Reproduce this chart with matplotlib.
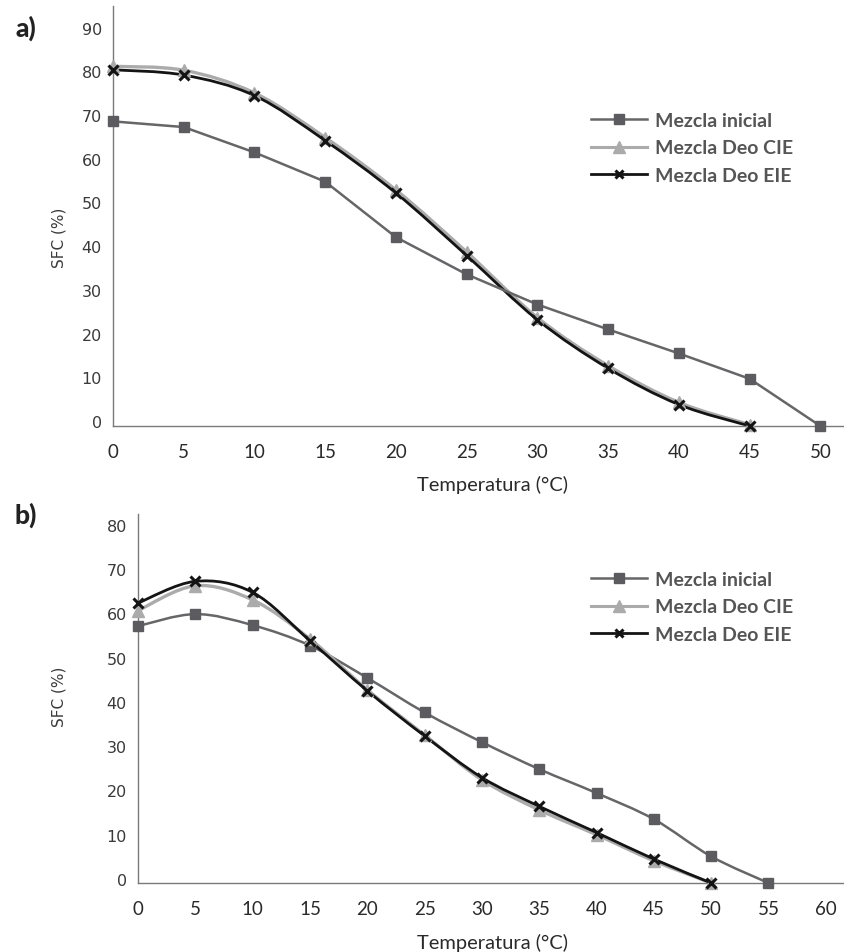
import matplotlib

matplotlib.use('Agg')
import matplotlib.pyplot as plt
import matplotlib.transforms as mtransforms
import numpy as np
from matplotlib.lines import Line2D
from matplotlib.patches import PathPatch
from matplotlib.path import Path

# datos
temp_a = [0, 5, 10, 15, 20, 25, 30, 35, 40, 45, 50]
inicial_a = [69.7, 68.4, 62.6, 55.9, 43.2, 34.7, 27.8, 22.1, 16.6, 10.8, 0.0]
temp_a_deo = [0, 5, 10, 15, 20, 25, 30, 35, 40, 45]
cie_a = [82.3, 81.4, 76.2, 66.0, 54.0, 39.8, 24.8, 13.8, 5.4, 0.3]
eie_a = [81.5, 80.3, 75.6, 65.3, 53.3, 39.0, 24.3, 13.2, 4.9, 0.0]

temp_b = [0, 5, 10, 15, 20, 25, 30, 35, 40, 45, 50, 55]
inicial_b = [58.0, 60.7, 58.2, 53.6, 46.3, 38.5, 31.8, 25.7, 20.3, 14.4, 6.0, 0.0]
temp_b_deo = [0, 5, 10, 15, 20, 25, 30, 35, 40, 45, 50]
cie_b = [61.5, 67.1, 63.9, 55.1, 43.6, 33.4, 23.3, 16.5, 10.9, 5.0, 0.0]
eie_b = [63.2, 68.1, 65.6, 54.7, 43.4, 33.2, 23.8, 17.3, 11.4, 5.4, 0.0]

ticks_a = [0, 5, 10, 15, 20, 25, 30, 35, 40, 45, 50]
ticks_b = [0, 5, 10, 15, 20, 25, 30, 35, 40, 45, 50, 55, 60]

labels = ['Mezcla inicial', 'Mezcla Deo CIE', 'Mezcla Deo EIE']
c_ini = '#666668'
c_sq = '#5c5c60'
c_cie = '#ababab'
c_eie = '#141414'

HUM = 'Lato'


def smooth_path(x, y):
    # curva suave estilo Excel (Bezier tipo Catmull-Rom)
    pts = np.column_stack([x, y]).astype(float)
    n = len(pts)
    verts = [pts[0]]
    codes = [Path.MOVETO]
    for i in range(n - 1):
        p0 = pts[i - 1] if i > 0 else pts[i]
        p1 = pts[i]
        p2 = pts[i + 1]
        p3 = pts[i + 2] if i + 2 < n else pts[i + 1]
        verts += [p1 + (p2 - p0) / 6, p2 - (p3 - p1) / 6, p2]
        codes += [Path.CURVE4] * 3
    return Path(verts, codes)


def draw_series(ax, x, y, color, lw, smooth):
    if smooth:
        ax.add_patch(PathPatch(smooth_path(x, y), fill=False, edgecolor=color,
                               lw=lw, capstyle='round', joinstyle='round'))
    else:
        ax.plot(x, y, color=color, lw=lw, solid_joinstyle='round')


def draw_markers(ax, x_ini, y_ini, x_deo, y_cie, y_eie):
    ax.plot(x_ini, y_ini, ls='none', marker='s', ms=7.5, color=c_sq, clip_on=False, zorder=4)
    ax.plot(x_deo, y_cie, ls='none', marker='^', ms=8.5, color=c_cie, clip_on=False, zorder=5)
    ax.plot(x_deo, y_eie, ls='none', marker='x', ms=6.5, mew=2.2, color=c_eie, clip_on=False, zorder=6)


def style_axes(ax, xlim, ylim, yticks, xticks, dy):
    ax.set_xlim(*xlim)
    ax.set_ylim(*ylim)
    ax.set_yticks(yticks)
    ax.set_xticks(xticks)
    for s in ['top', 'right']:
        ax.spines[s].set_visible(False)
    for s in ['left', 'bottom']:
        ax.spines[s].set_color('#7a7a7a')
        ax.spines[s].set_linewidth(1.0)
    ax.tick_params(axis='x', length=0, pad=12, labelsize=13.5, labelcolor='#2a2a2a')
    ax.tick_params(axis='y', length=0, pad=8, labelsize=11.5, labelcolor='#3a3a3a')
    for lab in ax.get_xticklabels():
        lab.set_fontfamily(HUM)
    for lab in ax.get_yticklabels():
        lab.set_fontfamily('DejaVu Sans')
        lab.set_transform(lab.get_transform() + mtransforms.ScaledTranslation(0, dy / 100, fig.dpi_scale_trans))


def add_legend(ax, x_px, y_px):
    handles = [
        Line2D([], [], color=c_ini, lw=1.8, marker='s', ms=7.5, mfc=c_sq, mec=c_sq),
        Line2D([], [], color=c_cie, lw=2.2, marker='^', ms=8.5),
        Line2D([], [], color=c_eie, lw=2.0, marker='x', ms=6, mew=2.2),
    ]
    leg = fig.legend(handles, labels, loc='upper left',
                     bbox_to_anchor=(x_px / 844, 1 - y_px / 953),
                     frameon=False, borderpad=0, borderaxespad=0,
                     handlelength=2.9, handletextpad=0.4, labelspacing=0.54,
                     prop={'family': HUM, 'weight': 'bold', 'size': 14})
    for t in leg.get_texts():
        t.set_color('#555555')


fig = plt.figure(figsize=(8.44, 9.53), dpi=100)

# a)
ax1 = fig.add_axes([113 / 844, 1 - 427 / 953, 730 / 844, 420 / 953])
draw_series(ax1, temp_a, inicial_a, c_ini, 1.8, False)
draw_series(ax1, temp_a_deo, cie_a, c_cie, 2.4, True)
draw_series(ax1, temp_a_deo, eie_a, c_eie, 2.0, True)
draw_markers(ax1, temp_a, inicial_a, temp_a_deo, cie_a, eie_a)
style_axes(ax1, (0, 51.6), (0, 96.1), range(0, 91, 10), ticks_a, 5)
add_legend(ax1, 591, 113)

# b)
ax2 = fig.add_axes([138 / 844, 1 - 884 / 953, 705 / 844, 369 / 953])
draw_series(ax2, temp_b, inicial_b, c_ini, 1.8, True)
draw_series(ax2, temp_b_deo, cie_b, c_cie, 2.4, True)
draw_series(ax2, temp_b_deo, eie_b, c_eie, 2.0, True)
draw_markers(ax2, temp_b, inicial_b, temp_b_deo, cie_b, eie_b)
style_axes(ax2, (0, 61.5), (0, 83.3), range(0, 81, 10), ticks_b, 4)
add_legend(ax2, 591, 572)

# textos
for yc in [485, 943]:
    fig.text(493 / 844, 1 - yc / 953, 'Temperatura (°C)', ha='center', va='center',
             family=HUM, fontsize=14.5, color='#2a2a2a')
for yc in [238, 697]:
    fig.text(59 / 844, 1 - yc / 953, 'SFC (%)', ha='center', va='center', rotation=90,
             family='DejaVu Sans', fontsize=11, color='#3a3a3a')
fig.text(26 / 844, 1 - 28 / 953, 'a)', ha='center', va='center',
         family=HUM, weight='black', fontsize=19, color='#222222')
fig.text(26 / 844, 1 - 515 / 953, 'b)', ha='center', va='center',
         family=HUM, weight='black', fontsize=19, color='#222222')

fig.savefig('out.png', dpi=100)
